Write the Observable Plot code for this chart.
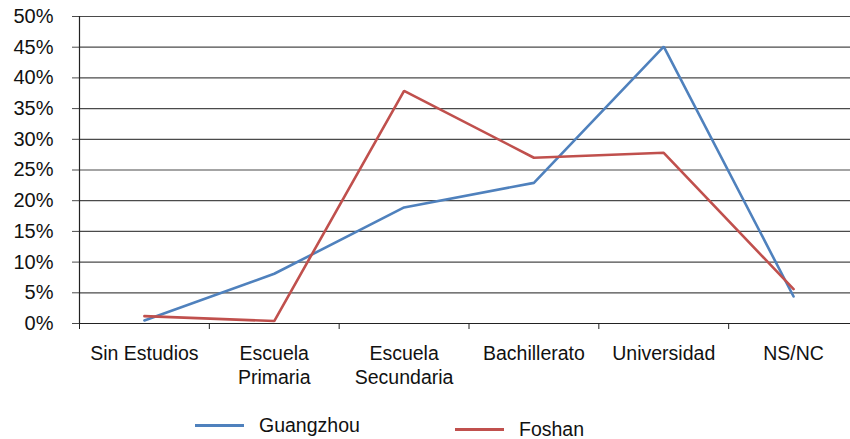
<!DOCTYPE html>
<html>
<head>
<meta charset="utf-8">
<script src="https://cdn.jsdelivr.net/npm/d3@7"></script>
<script src="https://cdn.jsdelivr.net/npm/@observablehq/plot@0.6"></script>
<style>
  html, body { margin: 0; padding: 0; background: #fff; }
  #chart svg { display: block; }
  #chart { width: 850px; font-family: "Helvetica Neue", Helvetica, Arial, "Liberation Sans", sans-serif; }
  .legend { position: relative; width: 850px; height: 39px; font-size: 19.5px; line-height: 20px; color: #111; }
  .item { position: absolute; display: flex; align-items: center; }
  .sw { width: 49px; height: 3px; margin-right: 15px; }
</style>
</head>
<body>
<div id="chart"></div>
<script>
const categories = ["Sin Estudios", "Escuela\nPrimaria", "Escuela\nSecundaria", "Bachillerato", "Universidad", "NS/NC"];
const series = ["Guangzhou", "Foshan"];
const guangzhou = [0.5, 8.1, 18.9, 22.9, 45.1, 4.4];
const foshan = [1.2, 0.4, 37.9, 27.0, 27.8, 5.6];
const yTicks = [0, 5, 10, 15, 20, 25, 30, 35, 40, 45, 50];
const colors = ["#4F81BD", "#C0504D"];

const rows = [];
[guangzhou, foshan].forEach((vals, s) => vals.forEach((v, i) => rows.push({series: series[s], i, v})));
const boundaries = d3.range(categories.length + 1).map(k => k - 0.5);

const font = '"Helvetica Neue", Helvetica, Arial, "Liberation Sans", sans-serif';

const plot = Plot.plot({
  width: 850,
  height: 400,
  marginTop: 16,
  marginBottom: 77,
  marginLeft: 79,
  marginRight: 0,
  style: {fontFamily: font, fontSize: "20px", color: "#111", background: "#fff"},
  x: {type: "linear", domain: [-0.5, categories.length - 0.5], range: [79, 858], axis: null},
  y: {domain: [0, 50], axis: null},
  color: {domain: series, range: colors},
  marks: [
    Plot.ruleY(yTicks.filter(d => d > 0), {stroke: "#4a4a4a", strokeWidth: 1.2, strokeOpacity: 1}),
    Plot.axisY({ticks: yTicks, tickFormat: d => d + "%", label: null, tickSize: 7, tickPadding: 19, stroke: "#4a4a4a", strokeOpacity: 1, fontSize: 20, fill: "#111"}),
    Plot.axisX({ticks: boundaries, tickFormat: () => "", label: null, tickSize: 6, stroke: "#222", strokeOpacity: 1}),
    Plot.ruleY([0], {stroke: "#222", strokeWidth: 1.2}),
    Plot.ruleX([-0.5], {y1: 0, y2: 50, stroke: "#222", strokeWidth: 1.2}),
    Plot.text(categories, {x: (d, i) => i, y: () => 0, text: d => d, dy: 20, lineAnchor: "top", lineHeight: 1.2, fontSize: 19.5, fill: "#111"}),
    Plot.line(rows, {x: "i", y: "v", z: "series", stroke: "series", strokeWidth: 2.6, strokeLinejoin: "miter"})
  ]
});
document.getElementById("chart").appendChild(plot);

const legend = document.createElement("div");
legend.className = "legend";
const legendPos = [{left: 195, top: 15}, {left: 455, top: 19}];
series.forEach((s, k) => {
  const it = document.createElement("div");
  it.className = "item";
  it.style.left = legendPos[k].left + "px";
  it.style.top = legendPos[k].top + "px";
  const sw = document.createElement("span");
  sw.className = "sw";
  sw.style.background = colors[k];
  const tx = document.createElement("span");
  tx.textContent = s;
  it.appendChild(sw);
  it.appendChild(tx);
  legend.appendChild(it);
});
document.getElementById("chart").appendChild(legend);
</script>
</body>
</html>
